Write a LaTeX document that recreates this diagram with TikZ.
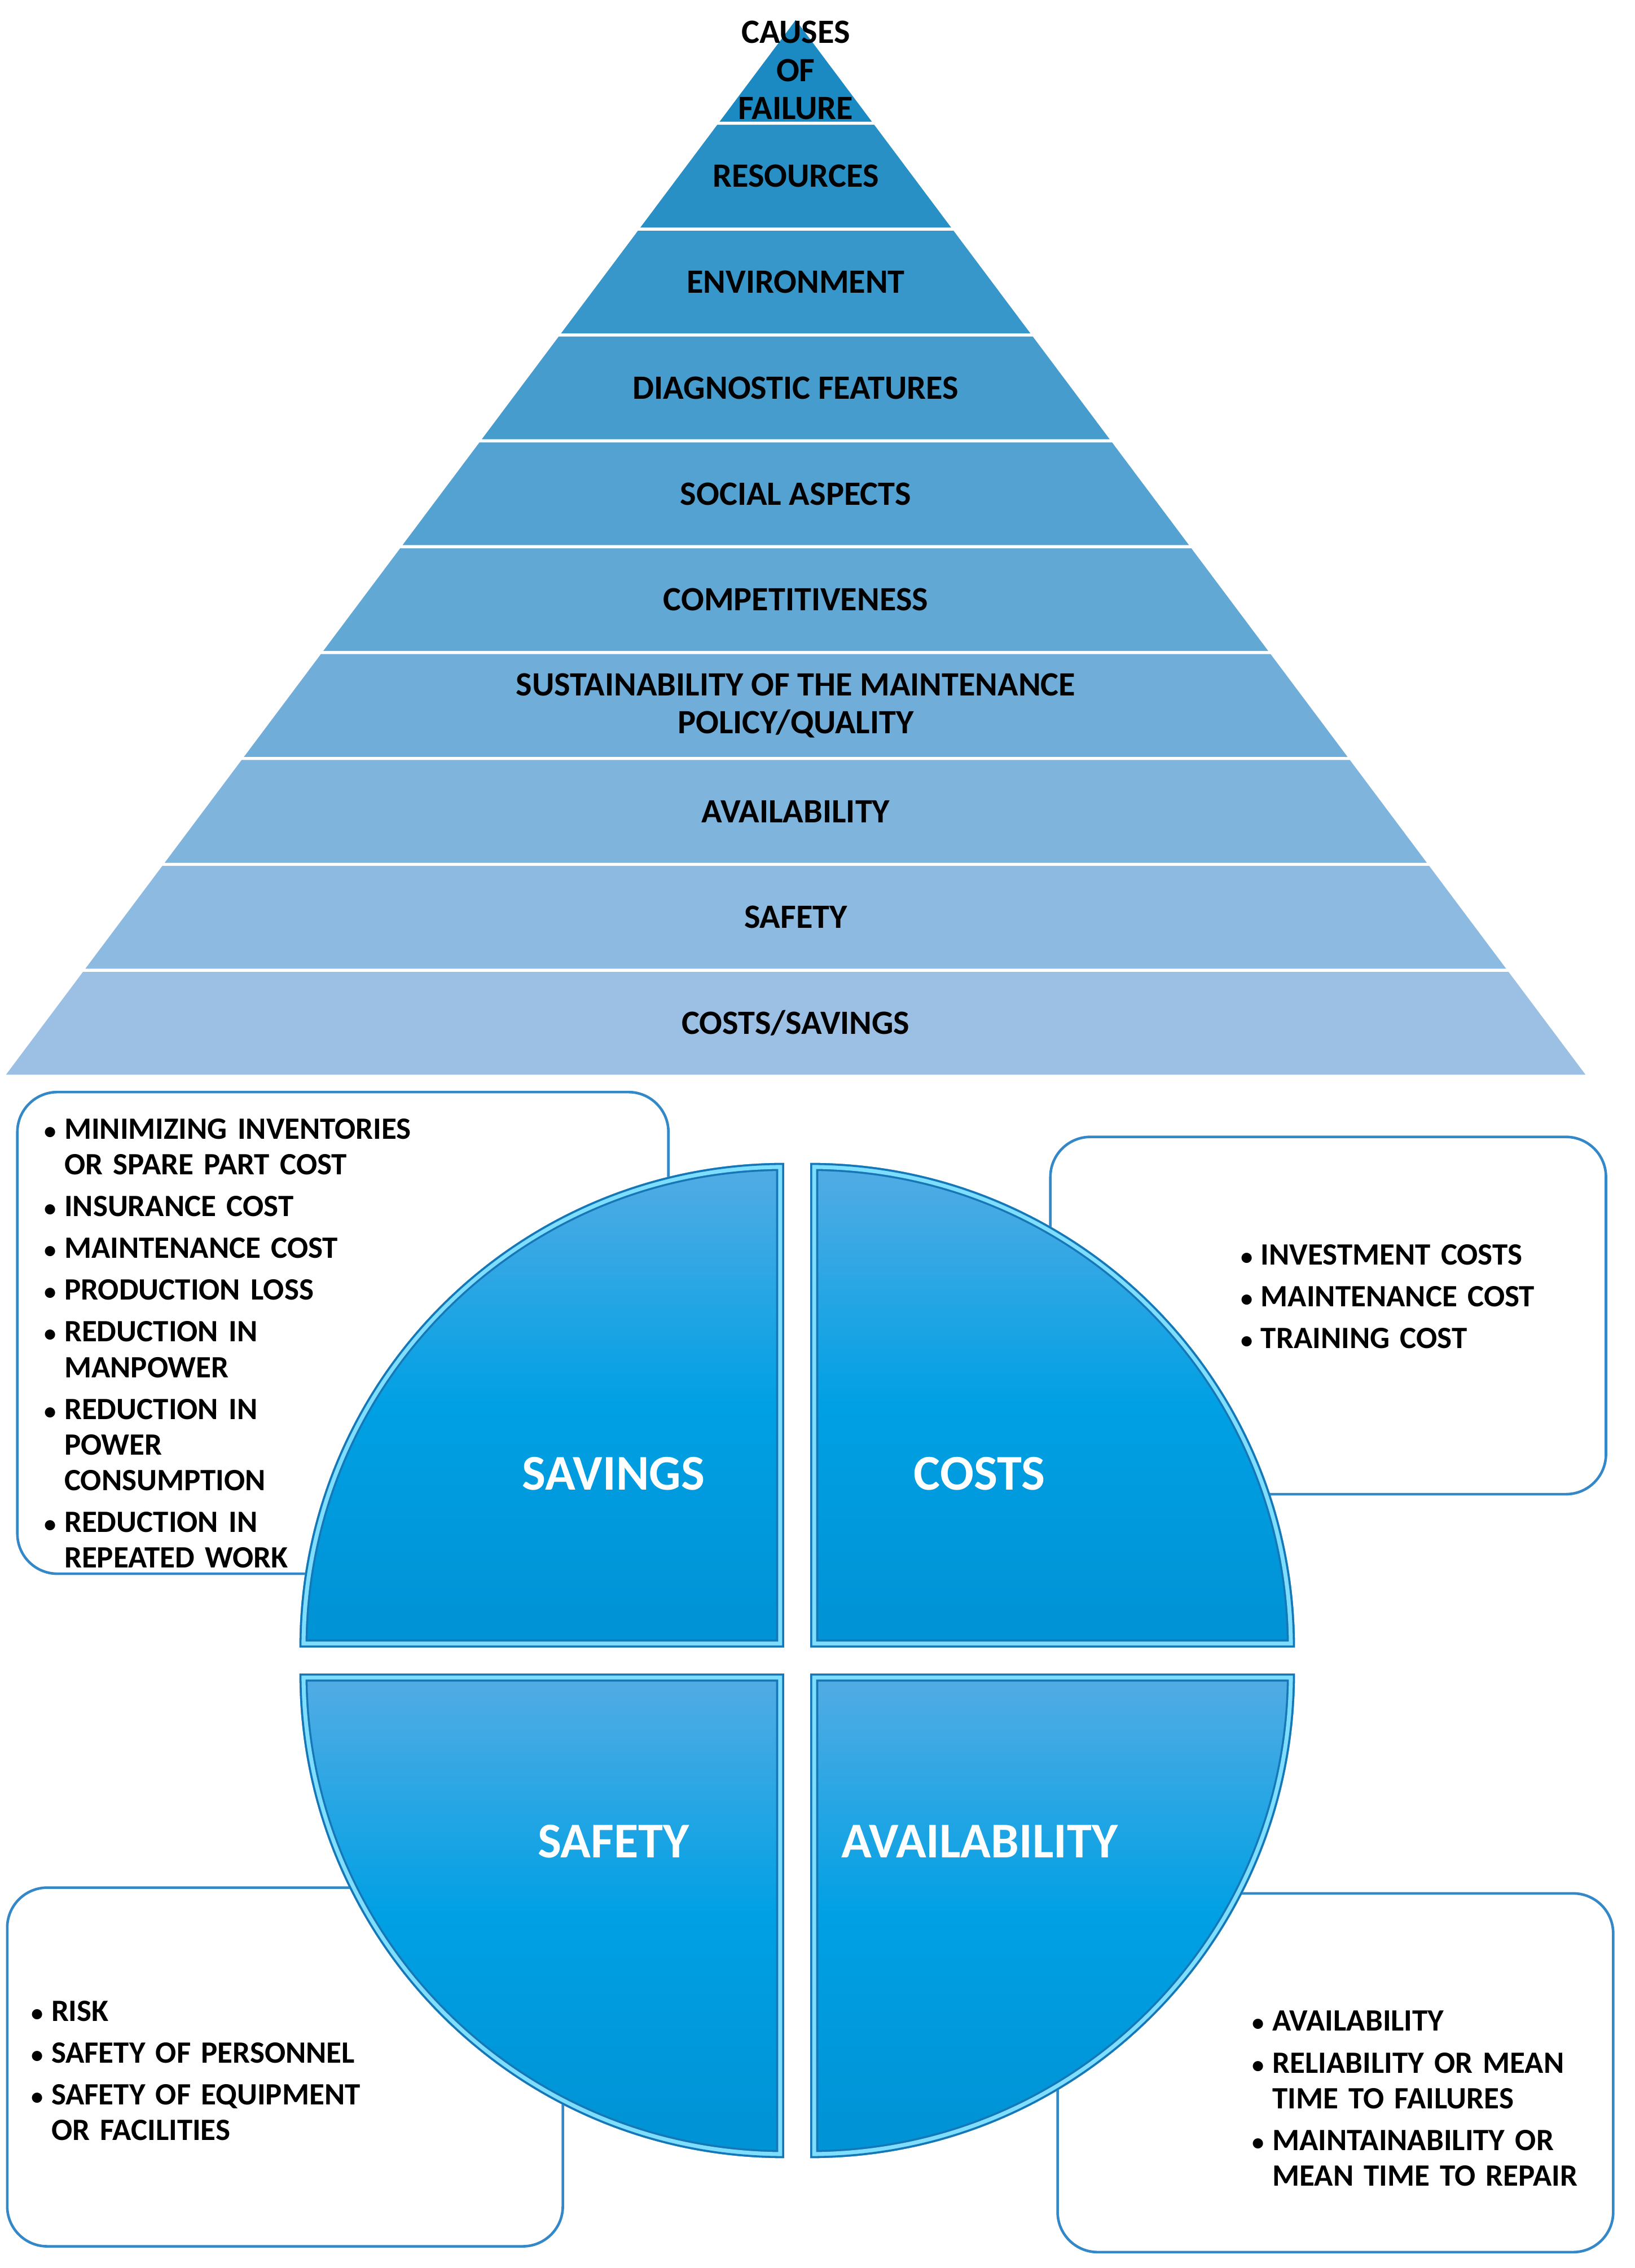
\documentclass[tikz,border=0pt]{standalone}
\usepackage{fontspec}
\setmainfont{Carlito}

\definecolor{pyrtop}{RGB}{27,138,194}
\definecolor{pyrbot}{RGB}{155,192,228}
\definecolor{boxblue}{RGB}{52,136,200}
\definecolor{quadtop}{RGB}{84,172,228}
\definecolor{quadmid}{RGB}{0,160,228}
\definecolor{quadbot}{RGB}{0,146,212}
\definecolor{quadedge}{RGB}{22,118,182}
\definecolor{quadshine}{RGB}{125,222,255}

\newcommand{\bul}{\hangindent=11pt\hangafter=1\noindent\makebox[11pt][l]{\hspace{1pt}{\fontsize{12}{12}\selectfont\textbullet}}}
\newcommand{\nxt}{\par\vspace{3.1pt}\bul}

\tikzset{
	level/.style={font=\fontsize{17}{19}\selectfont\bfseries, align=center, inner sep=0},
	listbox/.style={draw=boxblue, line width=1.3pt, fill=white, rounded corners=20pt},
	listtext/.style={font=\fontsize{15.5}{17.8}\selectfont\bfseries, text width=230pt, align=left, inner sep=0, anchor=north west},
	quadfill/.style={top color=quadtop, bottom color=quadbot, middle color=quadmid},
	quadlabel/.style={font=\fontsize{25}{30}\selectfont\bfseries, text=white, inner sep=0}
}

\begin{document}
\begin{tikzpicture}[x=0.254mm, y=-0.254mm]
	\useasboundingbox (0,0) rectangle (1130,1568);

	% pyramid
	\foreach \i in {1,...,10}
	{
	\pgfmathsetmacro\pct{(\i-1)*100/9}
	\colorlet{bandc}{pyrbot!\pct!pyrtop}
	\pgfmathsetmacro\ya{12+(\i-1)*73.2}
	\pgfmathsetmacro\yb{12+\i*73.2}
	\pgfmathsetmacro\wa{54.8*(\i-1)}
	\pgfmathsetmacro\wb{54.8*\i}
	\path[fill=bandc, draw=white, line width=1.5pt] (550-\wa,\ya) -- (550+\wa,\ya) -- (550+\wb,\yb) -- (550-\wb,\yb) -- cycle;
}

	\foreach \i/\txt in {1/{CAUSES\\OF\\FAILURE}, 2/RESOURCES, 3/ENVIRONMENT, 4/DIAGNOSTIC FEATURES, 5/SOCIAL ASPECTS, 6/COMPETITIVENESS, 7/{SUSTAINABILITY OF THE MAINTENANCE\\POLICY/QUALITY}, 8/AVAILABILITY, 9/SAFETY, 10/{COSTS/SAVINGS}}
	{
	\node[level] (lvl\i) at (550,{12+(\i-0.5)*73.2}) {\txt};
}

	% boxes behind the circle
	\draw[listbox] (12,755) rectangle (462,1088);
	\draw[listbox] (726,786) rectangle (1110,1033);
	\draw[listbox] (5,1305) rectangle (389,1553);
	\draw[listbox] (731,1309) rectangle (1115,1557);

	% quarter circles
	\foreach \cx/\cy/\sa/\ea in {542/1139/180/270, 560/1139/270/360, 542/1157/180/90, 560/1157/0/90}
	{
	\begin{scope}
		\path[clip] (\cx,\cy) -- ++(\sa:335) arc[start angle=\sa, end angle=\ea, radius=335] -- cycle;
		\path[quadfill] (\cx,\cy) -- ++(\sa:335) arc[start angle=\sa, end angle=\ea, radius=335] -- cycle;
		\draw[quadedge, line width=8pt] (\cx,\cy) -- ++(\sa:335) arc[start angle=\sa, end angle=\ea, radius=335] -- cycle;
		\draw[quadshine, line width=6pt] (\cx,\cy) -- ++(\sa:335) arc[start angle=\sa, end angle=\ea, radius=335] -- cycle;
		\draw[quadedge, line width=2pt] (\cx,\cy) -- ++(\sa:335) arc[start angle=\sa, end angle=\ea, radius=335] -- cycle;
	\end{scope}
}

	\node[quadlabel] (savings) at (424,1019) {SAVINGS};
	\node[quadlabel] (costs) at (677,1019) {COSTS};
	\node[quadlabel] (safety) at (424,1273) {SAFETY};
	\node[quadlabel] (avail) at (677,1273) {AVAILABILITY};

	% lists
	\node[listtext] (savlist) at (29,773) {\bul MINIMIZING INVENTORIES\newline OR SPARE PART COST\nxt INSURANCE COST\nxt MAINTENANCE COST\nxt PRODUCTION LOSS\nxt REDUCTION IN\newline MANPOWER\nxt REDUCTION IN\newline POWER\newline CONSUMPTION\nxt REDUCTION IN\newline REPEATED WORK\par};
	\node[listtext] (costlist) at (856,860) {\bul INVESTMENT COSTS\nxt MAINTENANCE COST\nxt TRAINING COST\par};
	\node[listtext] (safelist) at (20,1383) {\bul RISK\nxt SAFETY OF PERSONNEL\nxt SAFETY OF EQUIPMENT\newline OR FACILITIES\par};
	\node[listtext] (availlist) at (864,1390) {\bul AVAILABILITY\nxt RELIABILITY OR MEAN\newline TIME TO FAILURES\nxt MAINTAINABILITY OR\newline MEAN TIME TO REPAIR\par};

\end{tikzpicture}
\end{document}
